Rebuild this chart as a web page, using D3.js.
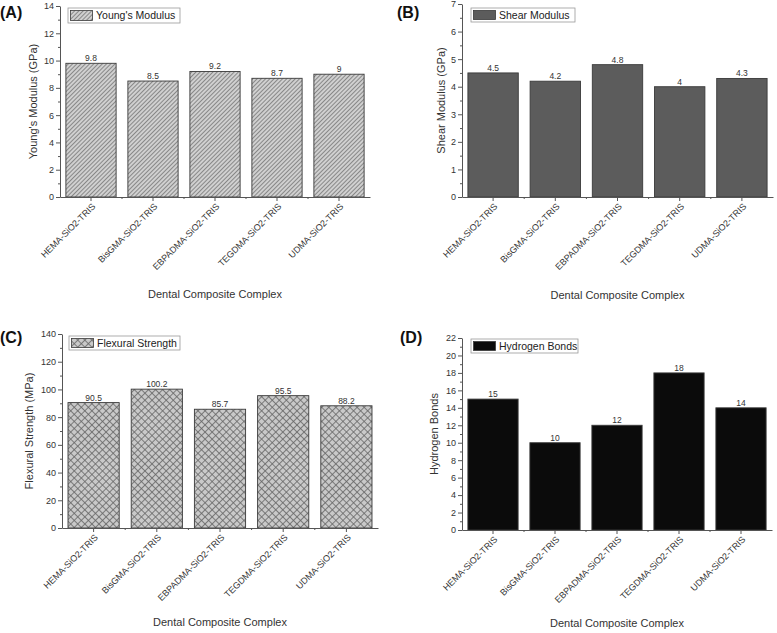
<!DOCTYPE html>
<html>
<head>
<meta charset="utf-8">
<script src="https://cdn.jsdelivr.net/npm/d3@7"></script>
<style>
  body { margin: 0; background: #fff; }
  svg { display: block; font-family: "Liberation Sans", Arial, sans-serif; }
</style>
</head>
<body>
<div id="chart"></div>
<script>
// data
const categories = ['HEMA-SiO2-TRIS', 'BisGMA-SiO2-TRIS', 'EBPADMA-SiO2-TRIS', 'TEGDMA-SiO2-TRIS', 'UDMA-SiO2-TRIS'];
const youngsModulus = [9.8, 8.5, 9.2, 8.7, 9];
const shearModulus = [4.5, 4.2, 4.8, 4, 4.3];
const flexuralStrength = [90.5, 100.2, 85.7, 95.5, 88.2];
const hydrogenBonds = [15, 10, 12, 18, 14];

const xTitle = 'Dental Composite Complex';

const svg = d3.select('#chart').append('svg')
    .attr('width', 777)
    .attr('height', 633);

// fill patterns
const defs = svg.append('defs');

const hatch = defs.append('pattern')
    .attr('id', 'hatch')
    .attr('patternUnits', 'userSpaceOnUse')
    .attr('width', 3).attr('height', 3)
    .attr('patternTransform', 'rotate(45)');
hatch.append('rect').attr('width', 3).attr('height', 3).attr('fill', '#d0d0d0');
hatch.append('line').attr('x1', 0.5).attr('y1', 0).attr('x2', 0.5).attr('y2', 3)
    .attr('stroke', '#808080').attr('stroke-width', 0.9);

const cross = defs.append('pattern')
    .attr('id', 'cross')
    .attr('patternUnits', 'userSpaceOnUse')
    .attr('width', 5).attr('height', 5)
    .attr('patternTransform', 'rotate(45)');
cross.append('rect').attr('width', 5).attr('height', 5).attr('fill', '#c9c9c9');
cross.append('line').attr('x1', 0.5).attr('y1', 0).attr('x2', 0.5).attr('y2', 5)
    .attr('stroke', '#666').attr('stroke-width', 0.8);
cross.append('line').attr('x1', 0).attr('y1', 0.5).attr('x2', 5).attr('y2', 0.5)
    .attr('stroke', '#666').attr('stroke-width', 0.8);

const panels = [
    {tag: '(A)', values: youngsModulus, name: "Young's Modulus", yTitle: "Young's Modulus (GPa)",
     fill: 'url(#hatch)', max: 14, step: 2, minor: 1,
     x0: 60, x1: 370, yTop: 6, yBot: 197, tagX: 0, tagY: 18, yTitleX: 37, xTitleY: 298,
     legend: [68, 8, 112, 15]},
    {tag: '(B)', values: shearModulus, name: 'Shear Modulus', yTitle: 'Shear Modulus (GPa)',
     fill: '#5c5c5c', max: 7, step: 1, minor: 0.5,
     x0: 462, x1: 773, yTop: 4, yBot: 197, tagX: 397, tagY: 18, yTitleX: 445, xTitleY: 299,
     legend: [471, 8, 104, 14]},
    {tag: '(C)', values: flexuralStrength, name: 'Flexural Strength', yTitle: 'Flexural Strength (MPa)',
     fill: 'url(#cross)', max: 140, step: 20, minor: 10,
     x0: 62, x1: 378, yTop: 334, yBot: 528, tagX: 0, tagY: 343, yTitleX: 33, xTitleY: 626,
     legend: [69, 336, 111, 14]},
    {tag: '(D)', values: hydrogenBonds, name: 'Hydrogen Bonds', yTitle: 'Hydrogen Bonds',
     fill: '#0b0b0b', max: 22, step: 2, minor: 1,
     x0: 462, x1: 772, yTop: 338, yBot: 530, tagX: 400, tagY: 343, yTitleX: 438, xTitleY: 627,
     legend: [471, 339, 107, 14]}
];

panels.forEach(drawPanel);

function drawPanel(p) {
    const g = svg.append('g');

    const xScale = d3.scaleBand()
        .domain(categories)
        .range([p.x0, p.x1])
        .paddingInner(0.19)
        .paddingOuter(0.095);

    const yScale = d3.scaleLinear()
        .domain([0, p.max])
        .range([p.yBot, p.yTop]);

    // bars
    g.selectAll('.bar')
        .data(p.values)
        .enter()
        .append('rect')
        .attr('class', 'bar')
        .attr('x', (d, i) => xScale(categories[i]))
        .attr('y', d => yScale(d))
        .attr('width', xScale.bandwidth())
        .attr('height', d => yScale(0) - yScale(d))
        .attr('fill', p.fill)
        .attr('stroke', '#3a3a3a')
        .attr('stroke-width', 0.9);

    // value labels
    g.selectAll('.val')
        .data(p.values)
        .enter()
        .append('text')
        .attr('x', (d, i) => xScale(categories[i]) + xScale.bandwidth() / 2)
        .attr('y', d => yScale(d) - 2)
        .attr('text-anchor', 'middle')
        .attr('font-size', 8.5)
        .attr('fill', '#333')
        .text(d => d);

    // y axis
    const majors = d3.range(0, p.max + p.step / 2, p.step);
    const minors = d3.range(p.minor, p.max, p.step);

    const yMinor = g.append('g')
        .attr('transform', 'translate(' + p.x0 + ',0)')
        .call(d3.axisLeft(yScale).tickValues(minors).tickSize(2).tickSizeOuter(0).tickFormat(''));
    yMinor.select('.domain').remove();

    const yAxisGroup = g.append('g')
        .attr('transform', 'translate(' + p.x0 + ',0)')
        .call(d3.axisLeft(yScale).tickValues(majors).tickFormat(d => d)
            .tickSize(4).tickSizeOuter(0).tickPadding(2));
    yAxisGroup.selectAll('text').attr('font-size', 9).attr('fill', '#333');

    // x axis
    const xAxisGroup = g.append('g')
        .attr('transform', 'translate(0,' + p.yBot + ')')
        .call(d3.axisBottom(xScale).tickSize(4).tickSizeOuter(0).tickFormat(''));

    const bounds = categories.slice(1).map(c => xScale(c) - xScale.step() * xScale.paddingInner() / 2);
    g.selectAll('.xminor')
        .data(bounds)
        .enter()
        .append('line')
        .attr('x1', d => d).attr('x2', d => d)
        .attr('y1', p.yBot).attr('y2', p.yBot + 2)
        .attr('stroke', '#555');

    g.selectAll('.xlab')
        .data(categories)
        .enter()
        .append('text')
        .attr('transform', d => 'translate(' + (xScale(d) + xScale.bandwidth() / 2 + 5) + ',' + (p.yBot + 10) + ') rotate(-45)')
        .attr('text-anchor', 'end')
        .attr('font-size', 9)
        .attr('fill', '#333')
        .text(d => d);

    [yAxisGroup, xAxisGroup, yMinor].forEach(a => {
        a.selectAll('path, line').attr('stroke', '#555');
    });

    // axis titles
    g.append('text')
        .attr('transform', 'translate(' + p.yTitleX + ',' + ((p.yTop + p.yBot) / 2) + ') rotate(-90)')
        .attr('text-anchor', 'middle')
        .attr('font-size', 11)
        .attr('fill', '#333')
        .text(p.yTitle);

    g.append('text')
        .attr('x', (p.x0 + p.x1) / 2)
        .attr('y', p.xTitleY)
        .attr('text-anchor', 'middle')
        .attr('font-size', 11)
        .attr('fill', '#333')
        .text(xTitle);

    // panel tag
    g.append('text')
        .attr('x', p.tagX)
        .attr('y', p.tagY)
        .attr('font-size', 16)
        .attr('font-weight', 'bold')
        .attr('fill', '#111')
        .text(p.tag);

    // legend
    const [lx, ly, lw, lh] = p.legend;
    g.append('rect')
        .attr('x', lx).attr('y', ly)
        .attr('width', lw).attr('height', lh)
        .attr('fill', '#fff')
        .attr('stroke', '#999')
        .attr('stroke-width', 0.8);
    g.append('rect')
        .attr('x', lx + 2.5).attr('y', ly + 2.5)
        .attr('width', 22).attr('height', lh - 5)
        .attr('fill', p.fill)
        .attr('stroke', '#3a3a3a')
        .attr('stroke-width', 0.8);
    g.append('text')
        .attr('x', lx + 28)
        .attr('y', ly + lh / 2)
        .attr('dy', '0.35em')
        .attr('font-size', 10.5)
        .attr('fill', '#222')
        .text(p.name);
}
</script>
</body>
</html>
